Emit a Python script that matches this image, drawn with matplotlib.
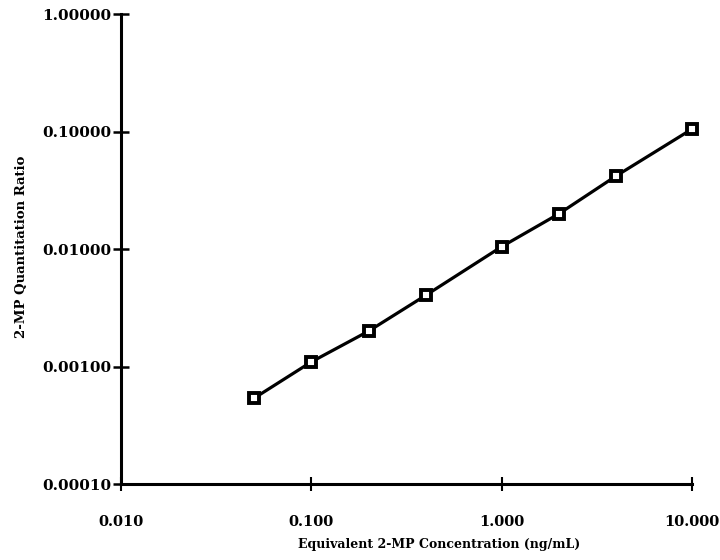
import matplotlib
matplotlib.use("Agg")
import matplotlib.pyplot as plt
from matplotlib.ticker import FixedLocator, NullLocator

conc = [0.05, 0.10, 0.20, 0.40, 1.0, 2.0, 4.0, 10.0]
ratio = [0.00054, 0.00110, 0.00201, 0.00406, 0.0105, 0.0200, 0.042, 0.105]
x_ticks = [0.01, 0.1, 1.0, 10.0]
x_ticklabels = ["0.010", "0.100", "1.000", "10.000"]
y_ticks = [0.0001, 0.001, 0.01, 0.1, 1.0]
y_ticklabels = ["0.00010", "0.00100", "0.01000", "0.10000", "1.00000"]
x_label = "Equivalent 2-MP Concentration (ng/mL)"
y_label = "2-MP Quantitation Ratio"

plt.rcParams['font.family'] = ['DejaVu Serif']
plt.rcParams['font.weight'] = 'bold'

fig = plt.figure(figsize=(7.2, 5.6), dpi=100)
ax = fig.add_axes([0.168, 0.135, 0.793, 0.84])
ax.set_xscale('log')
ax.set_yscale('log')
ax.set_xlim(0.01, 10)
ax.set_ylim(0.0001, 1.0)

ax.plot(conc, ratio, color='black', linewidth=2.3, marker='s', markersize=7,
        markerfacecolor='white', markeredgecolor='black', markeredgewidth=2.8,
        clip_on=False, zorder=3)

for s in ['top', 'right']:
    ax.spines[s].set_visible(False)
for s in ['left', 'bottom']:
    ax.spines[s].set_linewidth(2.2)

ax.xaxis.set_major_locator(FixedLocator(x_ticks))
ax.yaxis.set_major_locator(FixedLocator(y_ticks))
ax.xaxis.set_minor_locator(NullLocator())
ax.yaxis.set_minor_locator(NullLocator())
ax.set_xticklabels(x_ticklabels, fontsize=10.5, fontweight='bold')
ax.set_yticklabels(y_ticklabels, fontsize=11, fontweight='bold')
ax.tick_params(axis='y', direction='inout', length=12, width=1.8, pad=1)
ax.tick_params(axis='x', direction='inout', length=10, width=1.5, pad=17)

fig.text(0.61, 0.027, x_label, ha='center', va='center', fontsize=9,
         fontweight='bold')
fig.text(0.030, 0.56, y_label, ha='center', va='center', rotation=90,
         fontsize=9.5, fontweight='bold')

fig.savefig("out.png", dpi=100, facecolor='white')
